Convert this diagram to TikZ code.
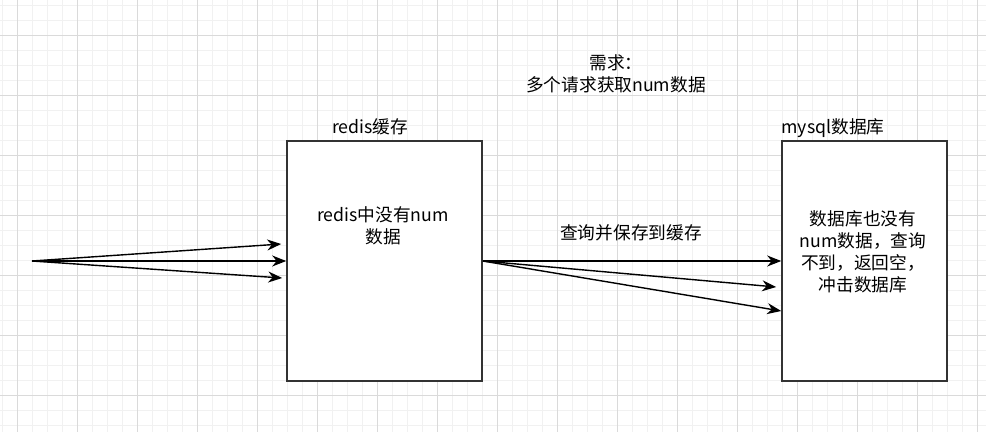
\documentclass[tikz,border=0pt]{standalone}
\usepackage{fontspec}
\setmainfont{Noto Sans CJK SC}
\usetikzlibrary{calc,arrows.meta}
\definecolor{minorgrid}{RGB}{241,241,241}
\definecolor{majorgrid}{RGB}{218,218,218}
\definecolor{boxgray}{RGB}{51,51,51}

\begin{document}
\begin{tikzpicture}[x=1pt,y=-1pt,
    minor/.style={draw=minorgrid,line width=0.8pt},
    major/.style={draw=majorgrid,line width=0.8pt},
    box/.style={draw=boxgray,line width=1.6pt,fill=white,minimum width=#1,minimum height=240pt,inner sep=0pt},
    flow/.style={line width=1.4pt,-{Stealth[length=14pt,width=11pt,inset=4.5pt]}},
    txt/.style={font=\fontsize{17.7}{22}\selectfont,align=center,inner sep=0pt}]

    \useasboundingbox (0,0) rectangle (986,432);
    \fill[white] (0,0) rectangle (986,432);
    \foreach \i in {2,17,...,986} \draw[minor] (\i,0) -- (\i,432);
    \foreach \j in {5,20,...,432} \draw[minor] (0,\j) -- (986,\j);
    \foreach \i in {17,77,...,986} \draw[major] (\i,0) -- (\i,432);
    \foreach \j in {35,95,...,432} \draw[major] (0,\j) -- (986,\j);

    \node[box=195pt] (redis) at (384.5,261) {};
    \node[box=165pt] (mysql) at (864.5,261) {};
    \node[txt,anchor=base] (redislbl) at (370,133) {redis缓存};
    \node[txt,anchor=base] (mysqllbl) at (833,133) {mysql数据库};
    \node[txt] (redistxt) at (383,225.5) {redis中没有num\\数据};
    \node[txt] (mysqltxt) at (863,252) {数据库也没有\\num数据，查询\\不到，返回空，\\冲击数据库};
    \node[txt] (need) at (616,74) {需求：\\多个请求获取num数据};
    \node[txt] (query) at (631,233) {查询并保存到缓存};

    \coordinate (src) at (32,261);
    \draw[flow] (src) -- ($(redis.west)+(-5,-17)$);
    \draw[flow] (src) -- (redis.west);
    \draw[flow] (src) -- ($(redis.west)+(-4,17)$);
    \draw[flow] (redis.east) -- (mysql.west);
    \draw[flow] (redis.east) -- ($(mysql.west)+(-5,26)$);
    \draw[flow] (redis.east) -- ($(mysql.west)+(0,50)$);

\end{tikzpicture}
\end{document}
